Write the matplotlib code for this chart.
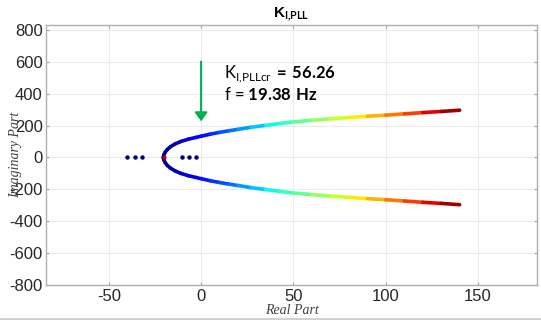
import numpy as np
import matplotlib.pyplot as plt
from matplotlib.collections import LineCollection
from matplotlib.lines import Line2D

plt.rcParams['mathtext.fontset'] = 'custom'
plt.rcParams['mathtext.rm'] = 'Lato'
plt.rcParams['mathtext.bf'] = 'Lato:bold'
plt.rcParams['axes.unicode_minus'] = False

# upper branch of the root locus (lower branch is its mirror)
locus_real = [-20.5, -20.2, -19.5, -18.3, -16.5, -14, -11, -7, -3, 0, 5, 10, 15, 20,
              27, 35, 43, 50, 60, 70, 80, 90, 100, 110, 120, 130, 140]
locus_imag = [0, 15, 32, 50, 68, 85, 100, 114, 125, 133, 146, 157, 167, 176,
              189, 201, 213, 223, 233, 242, 250, 258, 265, 273, 281, 288, 296]

# fixed poles on the real axis
pole_real = [-40, -36, -32, -10.5, -6.5, -2.7]
pole_imag = [0, 0, 0, 0, 0, 0]
crit_point = (-20.3, 0)

k_cr = 56.26
f_cr = 19.38
arrow_x = 0
arrow_from = 600
arrow_to = 226

xticks = [-50, 0, 50, 100, 150]
yticks = [-800, -600, -400, -200, 0, 200, 400, 600, 800]

fig = plt.figure(figsize=(5.41, 3.2), dpi=100)
ax = fig.add_axes([0.085, 0.109, 0.908, 0.813])

xr = np.array(locus_real)
yi = np.array(locus_imag)
norm = plt.Normalize(xr.min(), xr.max())
for sign in (1, -1):
    pts = np.column_stack([xr, sign * yi]).reshape(-1, 1, 2)
    segs = np.concatenate([pts[:-1], pts[1:]], axis=1)
    lc = LineCollection(segs, cmap='jet', norm=norm, linewidths=2.6,
                        capstyle='round', joinstyle='round', zorder=3)
    lc.set_array((xr[:-1] + xr[1:]) / 2)
    ax.add_collection(lc)

ax.plot(pole_real, pole_imag, 'o', color='#00007a', markersize=2.2, zorder=4)
ax.plot(*crit_point, 'o', color='#c00000', markersize=2, zorder=5)

ax.annotate('', xy=(arrow_x, arrow_to), xytext=(arrow_x, arrow_from),
            arrowprops=dict(arrowstyle='-|>,head_length=0.35,head_width=0.25',
                            color='#00b050', lw=1.5, mutation_scale=15,
                            shrinkA=0, shrinkB=0), zorder=4)

ax.text(12.5, 496, r'K$_{\mathrm{I{,}PLLcr}}\,\mathbf{=\,%.2f}$' % k_cr, fontsize=12,
        family='Lato', va='baseline', ha='left', color='black')
ax.text(12.5, 360, r'f = $\mathbf{%.2f\ Hz}$' % f_cr, fontsize=12,
        family='Lato', va='baseline', ha='left', color='black')

ax.set_xlim(-84, 182)
ax.set_ylim(-800, 830)
ax.set_xticks(xticks)
ax.set_yticks(yticks)
ax.grid(True, color='#ebebeb', lw=0.8)
ax.set_axisbelow(True)
ax.tick_params(direction='in', top=True, right=True, length=2.5, width=0.8,
               color='#a0a0a0', labelsize=12, labelcolor='#262626', pad=2.5)
for lab in ax.get_xticklabels() + ax.get_yticklabels():
    lab.set_family('Liberation Sans')
for s in ax.spines.values():
    s.set_color('#b0b0b0')
    s.set_linewidth(1)

ax.set_title(r'K$_{\mathbf{I{,}PLL}}$', fontsize=11, fontweight='bold',
             family='Liberation Sans', pad=6)
ax.set_xlabel('Real Part', family='Liberation Serif', style='italic',
              fontsize=10, color='#404040')
ax.set_ylabel('Imaginary Part', family='Liberation Serif', style='italic',
              fontsize=10, color='#404040')
ax.xaxis.set_label_coords(0.5, -0.098)
ax.xaxis.label.set_va('center')
ax.yaxis.set_label_coords(-0.061, 0.5)
ax.yaxis.label.set_va('center')

fig.add_artist(Line2D([0, 1], [0.002, 0.002], color='#c8c8c8', lw=1.2,
                      transform=fig.transFigure))

fig.savefig('out.png', dpi=100)
